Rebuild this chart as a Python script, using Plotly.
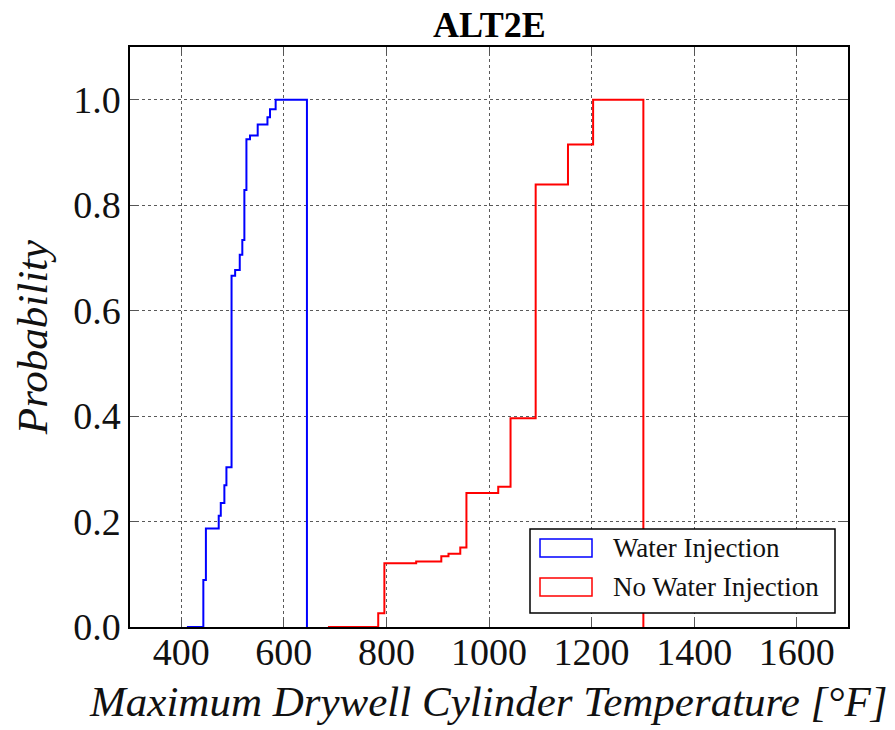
import plotly.graph_objects as go

# Cumulative step histograms (bin edges and cumulative probability at each edge)
water_edges = [411, 443, 448, 473, 477, 484, 488, 498, 505, 514, 519, 523, 527, 534, 549, 568, 573, 584, 645]
water_cdf = [0, 0.089, 0.187, 0.211, 0.235, 0.269, 0.303, 0.666, 0.677, 0.706, 0.734, 0.829, 0.925,
             0.932, 0.953, 0.967, 0.982, 1.0, 0]

nowater_edges = [686, 784, 796, 858, 907, 921, 944, 956, 1018, 1042, 1091, 1154, 1203, 1301]
nowater_cdf = [0, 0.026, 0.121, 0.124, 0.134, 0.139, 0.151, 0.254, 0.266, 0.396, 0.839, 0.915, 1.0, 0]

series_names = ["Water Injection", "No Water Injection"]
series_colors = ["#0000ff", "#ff0000"]

x_ticks = [400, 600, 800, 1000, 1200, 1400, 1600]
y_ticks = [0.0, 0.2, 0.4, 0.6, 0.8, 1.0]
y_tick_labels = ["0.0", "0.2", "0.4", "0.6", "0.8", "1.0"]

FONT = "Liberation Serif"

# page body has an 8px margin; figure is sized/positioned to compensate
PL, PT, PW, PH = 122, 39, 718, 580

fig = go.Figure()
for xs, ys, name, col in [(water_edges, water_cdf, series_names[0], series_colors[0]),
                          (nowater_edges, nowater_cdf, series_names[1], series_colors[1])]:
    fig.add_trace(go.Scatter(x=xs, y=ys, mode="lines", line=dict(color=col, width=2, shape="hv"),
                             name=name, showlegend=False))

axis_common = dict(
    showgrid=True, gridcolor="rgba(60,60,60,0.85)", griddash="dot", gridwidth=1,
    showline=True, linecolor="black", linewidth=1.5, mirror="ticks",
    ticks="inside", ticklen=8, tickwidth=1, tickcolor="#555555",
    zeroline=False, automargin=False,
    tickfont=dict(family=FONT, size=38, color="#111111"),
)

fig.update_xaxes(range=[300, 1700], tickvals=x_ticks, ticktext=[str(v) for v in x_ticks],
                 ticklabelstandoff=-9, **axis_common)
fig.update_yaxes(range=[0, 1.1], tickvals=y_ticks, ticktext=y_tick_labels,
                 title=dict(text="<i>Probability</i>",
                            font=dict(family=FONT, size=43, color="#111111"), standoff=12),
                 **axis_common)


def px(xp):
    return (xp - 130) / PW


def py(yp):
    return (627 - yp) / PH


# Legend drawn manually (rectangular patch handles); coords given in reference pixels
shapes = [dict(type="rect", xref="paper", yref="paper",
               x0=px(530), x1=px(835), y0=py(613), y1=py(529),
               line=dict(color="black", width=1.5), fillcolor="white", layer="above")]
annotations = []
for i, (name, col) in enumerate(zip(series_names, series_colors)):
    yc = [548, 587][i]
    shapes.append(dict(type="rect", xref="paper", yref="paper",
                       x0=px(540), x1=px(592), y0=py(yc + 9), y1=py(yc - 9),
                       line=dict(color=col, width=1.5), fillcolor="rgba(0,0,0,0)", layer="above"))
    annotations.append(dict(xref="paper", yref="paper", x=px(611), y=py(yc),
                            text=name, showarrow=False, xanchor="left", yanchor="middle",
                            font=dict(family=FONT, size=27, color="#111111")))

# x-axis title
annotations.append(dict(xref="paper", yref="paper", x=px(488), y=py(701),
                        text="<i>Maximum Drywell Cylinder Temperature [°F]</i>", showarrow=False,
                        xanchor="center", yanchor="middle",
                        font=dict(family=FONT, size=43, color="#111111")))
# title
annotations.append(dict(xref="paper", yref="paper", x=px(489), y=py(25),
                        text="<b>ALT2E</b>", showarrow=False,
                        xanchor="center", yanchor="middle",
                        font=dict(family=FONT, size=36, color="black")))

fig.update_layout(
    width=887, height=722,
    margin=dict(l=PL, r=887 - PL - PW, t=PT, b=722 - PT - PH),
    paper_bgcolor="white", plot_bgcolor="white",
    shapes=shapes, annotations=annotations,
    showlegend=False,
)

fig.write_html("out.html")
